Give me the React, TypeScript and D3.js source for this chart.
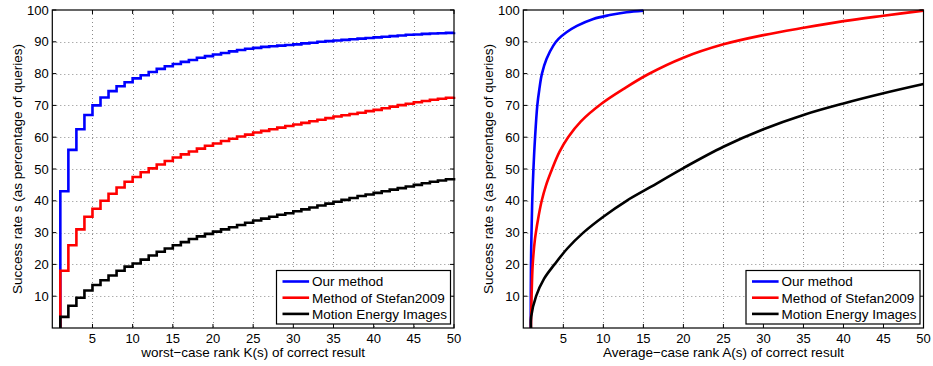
import * as d3 from "d3";
import React from "react";

// left panel: success rate at worst-case rank K = 1..50
const ourWorst = [
  43, 56, 62.5, 67, 70, 72.5, 74.5, 76, 77.3, 78.5, 79.5, 80.5, 81.5, 82.3, 83,
  83.7, 84.3, 85, 85.5, 86, 86.5, 87, 87.4, 87.8, 88.1, 88.4, 88.6, 88.8, 89,
  89.2, 89.5, 89.7, 90, 90.2, 90.4, 90.6, 90.8, 91, 91.2, 91.4, 91.6, 91.8, 92,
  92.2, 92.3, 92.5, 92.6, 92.7, 92.8, 93,
];
const stefanWorst = [
  18, 26, 31, 35, 37.5, 40, 42.2, 44.2, 46, 47.5, 49, 50.2, 51.4, 52.5, 53.6,
  54.6, 55.5, 56.4, 57.3, 58, 58.8, 59.5, 60.2, 60.8, 61.5, 62, 62.5, 63, 63.5,
  64, 64.5, 65, 65.5, 66, 66.5, 66.9, 67.3, 67.7, 68.2, 68.6, 69.1, 69.6, 70.1,
  70.5, 71, 71.4, 71.8, 72.1, 72.4, 72.7,
];
const meiWorst = [
  3.5, 7, 9.5, 11.8, 13.5, 15, 16.5, 18, 19.3, 20.3, 21.5, 22.8, 24, 25, 26, 27,
  28, 28.8, 29.6, 30.3, 31, 31.7, 32.4, 33.1, 33.8, 34.4, 35, 35.6, 36.1, 36.7,
  37.3, 37.9, 38.5, 39.1, 39.7, 40.3, 40.9, 41.5, 42, 42.5, 43, 43.5, 44, 44.5,
  45, 45.5, 46, 46.4, 46.8, 47.2,
];

// right panel: average-case rank A(s) vs success rate s
const ourAvgX = [0.93, 0.96, 1.1, 1.25, 1.46, 1.75, 2.0, 2.33, 2.9, 3.75, 4.4, 5.4, 6.7, 8.75, 10.8, 12.9, 15];
const ourAvgY = [0, 20, 38.5, 49, 59.5, 70, 75, 80, 84.6, 88.8, 90.9, 93, 95, 97.2, 98.4, 99.3, 99.8];
const stefanAvgX = [0.95, 1.04, 1.17, 1.46, 1.85, 2.3, 2.83, 3.6, 4.5, 5.6, 7.2, 9.8, 12.6, 15.6, 20, 25, 30, 35, 40, 45, 50];
const stefanAvgY = [0, 10.3, 19.7, 28, 34.3, 40, 44.8, 50, 55.3, 60, 65, 70.6, 75.3, 79.8, 85, 89.2, 92.1, 94.4, 96.5, 98.2, 99.8];
const meiAvgX = [0.96, 0.98, 1.6, 2.6, 3.9, 5.5, 7.5, 10, 12.9, 15.8, 20, 25, 30, 35, 40, 45, 50];
const meiAvgY = [0, 3.5, 10, 15.5, 20, 25, 30, 35, 40, 44.2, 50.3, 57, 62.5, 67, 70.6, 73.8, 76.7];

const xTicks = [5, 10, 15, 20, 25, 30, 35, 40, 45, 50];
const yTicks = [10, 20, 30, 40, 50, 60, 70, 80, 90, 100];
const legendLabels = ["Our method", "Method of Stefan2009", "Motion Energy Images"];
const colors = ["#0000ff", "#ff0000", "#000000"];

const FONT = "'Liberation Sans', Arial, Helvetica, sans-serif";
const W = 933;
const H = 366;
const top = 10;
const bottom = 328;

type Pt = [number, number];

function Panel({
  left,
  right,
  xLabel,
  series,
  step,
}: {
  left: number;
  right: number;
  xLabel: string;
  series: Pt[][];
  step: boolean;
}) {
  const x = d3.scaleLinear([0, 50], [left, right]);
  const y = d3.scaleLinear([0, 100], [bottom, top]);
  const line = d3
    .line<Pt>()
    .x((d) => x(d[0]))
    .y((d) => y(d[1]))
    .curve(step ? d3.curveStepAfter : d3.curveCatmullRom.alpha(0.5));

  const legW = 174;
  const legH = 53.5;
  const legX = right - 3.5 - legW;
  const legY = bottom - 4 - legH;

  return (
    <g fontFamily={FONT}>
      <rect x={left} y={top} width={right - left} height={bottom - top} fill="#fff" />
      {/* grid */}
      <g stroke="#8a8a8a" strokeWidth={1} strokeDasharray="1,3">
        {xTicks.slice(0, -1).map((t) => (
          <line key={"gx" + t} x1={Math.round(x(t)) + 0.5} x2={Math.round(x(t)) + 0.5} y1={top} y2={bottom} />
        ))}
        {yTicks.slice(0, -1).map((t) => (
          <line key={"gy" + t} x1={left} x2={right} y1={Math.round(y(t)) + 0.5} y2={Math.round(y(t)) + 0.5} />
        ))}
      </g>
      {/* data */}
      {series.map((s, i) => (
        <path
          key={"s" + i}
          d={line(s) ?? ""}
          fill="none"
          stroke={colors[i]}
          strokeWidth={2.6}
          strokeLinejoin="miter"
        />
      ))}
      {/* box and ticks */}
      <rect x={left} y={top} width={right - left} height={bottom - top} fill="none" stroke="#000" strokeWidth={1.2} />
      <g stroke="#000" strokeWidth={1}>
        {xTicks.map((t) => (
          <g key={"tx" + t}>
            <line x1={x(t)} x2={x(t)} y1={bottom} y2={bottom - 4} />
            <line x1={x(t)} x2={x(t)} y1={top} y2={top + 4} />
          </g>
        ))}
        {yTicks.map((t) => (
          <g key={"ty" + t}>
            <line x1={left} x2={left + 4} y1={y(t)} y2={y(t)} />
            <line x1={right} x2={right - 4} y1={y(t)} y2={y(t)} />
          </g>
        ))}
      </g>
      <g fontSize={13} fill="#000">
        {xTicks.map((t) => (
          <text key={"lx" + t} x={x(t)} y={342.5} textAnchor="middle">
            {t}
          </text>
        ))}
        {yTicks.map((t) => (
          <text key={"ly" + t} x={left - 3.5} y={y(t) + 4.6} textAnchor="end">
            {t}
          </text>
        ))}
      </g>
      <text x={(left + right) / 2} y={357} textAnchor="middle" fontSize={13.5}>
        {xLabel}
      </text>
      <text
        transform={`translate(${left - 30.5},${(top + bottom) / 2}) rotate(-90)`}
        textAnchor="middle"
        fontSize={13.5}
      >
        Success rate s (as percentage of queries)
      </text>
      {/* legend */}
      <rect x={legX} y={legY} width={legW} height={legH} fill="#fff" stroke="#000" strokeWidth={1.2} />
      {legendLabels.map((lab, i) => {
        const cy = legY + 11 + i * 16.2;
        return (
          <g key={"leg" + i}>
            <line x1={legX + 6} x2={legX + 32.6} y1={cy} y2={cy} stroke={colors[i]} strokeWidth={2.6} />
            <text x={legX + 35.5} y={cy + 4.8} fontSize={13.5}>
              {lab}
            </text>
          </g>
        );
      })}
    </g>
  );
}

export default function App() {
  const worst = [ourWorst, stefanWorst, meiWorst].map((vals) => {
    const pts: Pt[] = [[1, 0]];
    vals.forEach((v, i) => pts.push([i + 1, v]));
    return pts;
  });
  const avg = [
    [ourAvgX, ourAvgY],
    [stefanAvgX, stefanAvgY],
    [meiAvgX, meiAvgY],
  ].map(([xs, ys]) => xs.map((v, i) => [v, ys[i]] as Pt));

  return (
    <svg
      width={W}
      height={H}
      viewBox={`0 0 ${W} ${H}`}
      style={{ position: "absolute", left: 0, top: 0, background: "#fff" }}
    >
      <rect width={W} height={H} fill="#fff" />
      <Panel
        left={52.3}
        right={454}
        xLabel="worst−case rank K(s) of correct result"
        series={worst}
        step={true}
      />
      <Panel
        left={523.3}
        right={923.5}
        xLabel="Average−case rank A(s) of correct result"
        series={avg}
        step={false}
      />
    </svg>
  );
}
